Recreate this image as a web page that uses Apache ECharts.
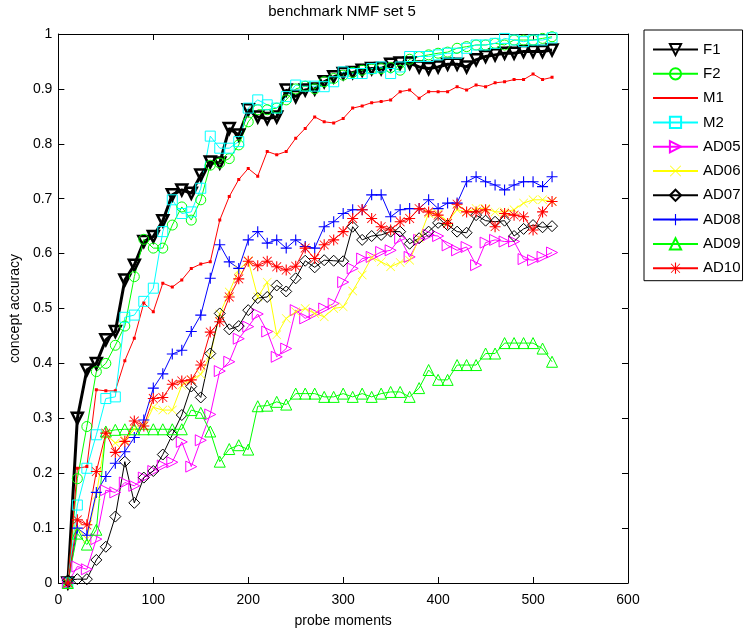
<!DOCTYPE html>
<html><head><meta charset="utf-8">
<script src="https://cdn.jsdelivr.net/npm/echarts@6/dist/echarts.min.js"></script>
<style>html,body{margin:0;padding:0;background:#fff}#c{width:746px;height:634px}</style>
</head><body><div id="c"></div>
<script>
const probeMoments = [10,20,30,40,50,60,70,80,90,100,110,120,130,140,150,160,170,180,190,200,210,220,230,240,250,260,270,280,290,300,310,320,330,340,350,360,370,380,390,400,410,420,430,440,450,460,470,480,490,500,510,520];
const F1 = [0,0.30,0.388,0.40,0.443,0.458,0.552,0.579,0.622,0.631,0.66,0.707,0.716,0.71,0.743,0.767,0.765,0.828,0.816,0.862,0.849,0.846,0.849,0.898,0.886,0.898,0.90,0.913,0.922,0.928,0.93,0.934,0.937,0.937,0.945,0.947,0.947,0.94,0.937,0.94,0.945,0.945,0.94,0.953,0.959,0.962,0.965,0.965,0.968,0.968,0.968,0.971];
const F2 = [0,0.19,0.285,0.385,0.40,0.433,0.468,0.558,0.626,0.61,0.61,0.652,0.685,0.661,0.698,0.761,0.765,0.773,0.798,0.84,0.862,0.862,0.865,0.88,0.90,0.905,0.90,0.913,0.919,0.925,0.93,0.934,0.936,0.937,0.939,0.934,0.954,0.959,0.962,0.965,0.967,0.974,0.977,0.98,0.98,0.983,0.98,0.989,0.989,0.989,0.992,0.995];
const M1 = [0,0.209,0.212,0.352,0.35,0.35,0.405,0.446,0.51,0.494,0.546,0.539,0.552,0.573,0.581,0.585,0.661,0.704,0.735,0.755,0.741,0.786,0.78,0.786,0.81,0.828,0.849,0.84,0.838,0.846,0.865,0.869,0.875,0.877,0.88,0.895,0.898,0.883,0.895,0.895,0.895,0.904,0.898,0.907,0.904,0.911,0.913,0.917,0.917,0.927,0.917,0.921];
const M2 = [0,0.142,0.209,0.27,0.336,0.339,0.484,0.488,0.513,0.537,0.64,0.698,0.673,0.676,0.719,0.814,0.792,0.792,0.804,0.865,0.88,0.871,0.865,0.886,0.907,0.905,0.905,0.904,0.913,0.931,0.928,0.928,0.937,0.94,0.928,0.94,0.959,0.959,0.959,0.962,0.965,0.965,0.974,0.98,0.98,0.983,0.992,0.989,0.986,0.989,0.989,0.993];
const AD05 = [0,0.03,0.025,0.08,0.169,0.165,0.183,0.177,0.192,0.204,0.214,0.22,0.257,0.212,0.26,0.307,0.386,0.403,0.445,0.467,0.49,0.458,0.412,0.427,0.497,0.482,0.491,0.50,0.509,0.548,0.573,0.591,0.594,0.603,0.606,0.628,0.594,0.625,0.634,0.632,0.615,0.606,0.612,0.579,0.62,0.625,0.622,0.622,0.59,0.588,0.594,0.602];
const AD06 = [0,0.10,0.08,0.16,0.27,0.255,0.26,0.28,0.285,0.32,0.315,0.315,0.36,0.37,0.38,0.415,0.49,0.53,0.57,0.587,0.521,0.548,0.452,0.482,0.494,0.50,0.491,0.485,0.50,0.503,0.532,0.561,0.593,0.585,0.576,0.584,0.588,0.628,0.673,0.673,0.658,0.68,0.676,0.682,0.682,0.676,0.676,0.68,0.692,0.698,0.698,0.695];
const AD07 = [0.005,0.007,0.007,0.042,0.066,0.121,0.221,0.146,0.192,0.204,0.234,0.27,0.306,0.358,0.338,0.418,0.491,0.462,0.468,0.497,0.519,0.521,0.542,0.531,0.555,0.587,0.575,0.588,0.587,0.586,0.649,0.625,0.632,0.634,0.64,0.64,0.618,0.628,0.64,0.656,0.652,0.64,0.638,0.67,0.66,0.658,0.66,0.632,0.645,0.652,0.648,0.65];
const AD08 = [0,0.10,0.087,0.165,0.194,0.218,0.239,0.265,0.297,0.355,0.381,0.417,0.424,0.458,0.488,0.555,0.616,0.585,0.573,0.625,0.64,0.619,0.625,0.61,0.625,0.613,0.61,0.649,0.658,0.673,0.68,0.68,0.707,0.707,0.667,0.68,0.682,0.682,0.698,0.682,0.692,0.692,0.731,0.74,0.731,0.725,0.716,0.725,0.731,0.731,0.722,0.74];
const AD09 = [0,0.09,0.07,0.097,0.276,0.279,0.28,0.28,0.28,0.28,0.28,0.28,0.28,0.315,0.31,0.276,0.221,0.244,0.251,0.243,0.322,0.323,0.33,0.325,0.345,0.345,0.345,0.339,0.339,0.345,0.339,0.345,0.339,0.345,0.348,0.348,0.339,0.355,0.388,0.37,0.37,0.397,0.397,0.397,0.418,0.418,0.437,0.437,0.437,0.437,0.427,0.403];
const AD10 = [0,0.115,0.106,0.203,0.273,0.238,0.258,0.295,0.286,0.336,0.338,0.362,0.368,0.37,0.397,0.457,0.476,0.521,0.554,0.586,0.578,0.586,0.576,0.57,0.577,0.61,0.591,0.616,0.625,0.64,0.664,0.68,0.664,0.649,0.643,0.658,0.664,0.682,0.676,0.67,0.655,0.69,0.676,0.676,0.68,0.649,0.673,0.67,0.667,0.643,0.676,0.695];
const xTicks = [0,100,200,300,400,500,600];
const yTicks = [0,0.1,0.2,0.3,0.4,0.5,0.6,0.7,0.8,0.9,1];
const titleText = 'benchmark NMF set 5';
const xName = 'probe moments';
const yName = 'concept accuracy';

const FONT = '"Liberation Sans", Arial, Helvetica, sans-serif';
const PLUS = 'path://M9,0H11V9H20V11H11V20H9V11H0V9H9Z';
const CROSS = 'path://M0,1L1,0L10,9L19,0L20,1L11,10L20,19L19,20L10,11L1,20L0,19L9,10Z';
const STAR = 'path://M9,0H11V9H20V11H11V20H9V11H0V9H9ZM1.5,2.5L2.5,1.5L10,9L17.5,1.5L18.5,2.5L11,10L18.5,17.5L17.5,18.5L10,11L2.5,18.5L1.5,17.5L9,10Z';
const DOT = 'path://M0,0L0.01,0L0,0.01ZM19.99,20L20,19.99L20,20ZM8.5,8.5H11.5V11.5H8.5Z';
const T = 'rgba(0,0,0,0)';

function pts(vals){ return probeMoments.map((x,i)=>[x, vals[i]]); }
function hollow(name, vals, color, symbol, size, lw, bw, rot){
  return {name, type:'line', data:pts(vals), symbol, symbolSize:size, symbolRotate:rot||0,
    lineStyle:{color, width:lw}, itemStyle:{color:T, borderColor:color, borderWidth:bw},
    emphasis:{disabled:true}};
}
function filled(name, vals, color, symbol, size, lw){
  return {name, type:'line', data:pts(vals), symbol, symbolSize:size,
    lineStyle:{color, width:lw}, itemStyle:{color, borderWidth:0},
    emphasis:{disabled:true}};
}
const series = [
  hollow('F1', F1, '#000000', 'triangle', 11, 3, 2.5, 180),
  hollow('F2', F2, '#00ff00', 'circle', 10, 1, 1),
  filled('M1', M1, '#ff0000', DOT, 20, 1),
  hollow('M2', M2, '#00ffff', 'rect', 10, 1, 1),
  hollow('AD05', AD05, '#ff00ff', 'triangle', 11, 1, 1, -90),
  filled('AD06', AD06, '#ffff00', CROSS, 9, 1),
  hollow('AD07', AD07, '#000000', 'diamond', 11, 1, 1),
  filled('AD08', AD08, '#0000ff', PLUS, 11, 1),
  hollow('AD09', AD09, '#00ff00', 'triangle', 11, 1, 1),
  filled('AD10', AD10, '#ff0000', STAR, 11, 1)
];

const axisCommon = {
  axisLine:{show:true, onZero:false, lineStyle:{color:'#000', width:1}},
  axisTick:{show:true, inside:true, length:6, lineStyle:{color:'#000'}},
  splitLine:{show:false}
};
const chart = echarts.init(document.getElementById('c'), null, {renderer:'canvas'});
chart.setOption({
  animation:false,
  backgroundColor:'#fff',
  title:{text:titleText, left:342, top:4, padding:0, textAlign:'center',
    textStyle:{fontFamily:FONT, fontSize:15, fontWeight:'normal', color:'#000'}},
  grid:{left:57, top:34, width:571, height:549, show:false},
  legend:{orient:'vertical', left:644, top:30, padding:[12,2,5,8], itemGap:9.3, itemWidth:45, itemHeight:14,
    backgroundColor:'#fff', borderColor:'#000', borderWidth:1, selectedMode:false,
    textStyle:{fontFamily:FONT, fontSize:15, color:'#000'},
    data:series.map(s=>s.name)},
  xAxis:[
    Object.assign({type:'value', min:xTicks[0], max:xTicks[xTicks.length-1], interval:100, position:'bottom',
      name:xName, nameLocation:'middle', nameGap:31,
      nameTextStyle:{fontFamily:FONT, fontSize:14, color:'#000'},
      axisLabel:{fontFamily:FONT, fontSize:14, color:'#000', margin:10}}, axisCommon),
    Object.assign({type:'value', min:xTicks[0], max:xTicks[xTicks.length-1], interval:100, position:'top',
      axisLabel:{show:false}}, axisCommon)
  ],
  yAxis:[
    Object.assign({type:'value', min:yTicks[0], max:yTicks[yTicks.length-1], interval:0.1, position:'left',
      name:yName, nameLocation:'middle', nameGap:29,
      nameTextStyle:{fontFamily:FONT, fontSize:14, color:'#000'},
      axisLabel:{fontFamily:FONT, fontSize:14, color:'#000', margin:6,
        formatter:v=>String(+v.toFixed(1))}}, axisCommon),
    Object.assign({type:'value', min:yTicks[0], max:yTicks[yTicks.length-1], interval:0.1, position:'right',
      axisLabel:{show:false}}, axisCommon)
  ],
  series:series
});
</script></body></html>
